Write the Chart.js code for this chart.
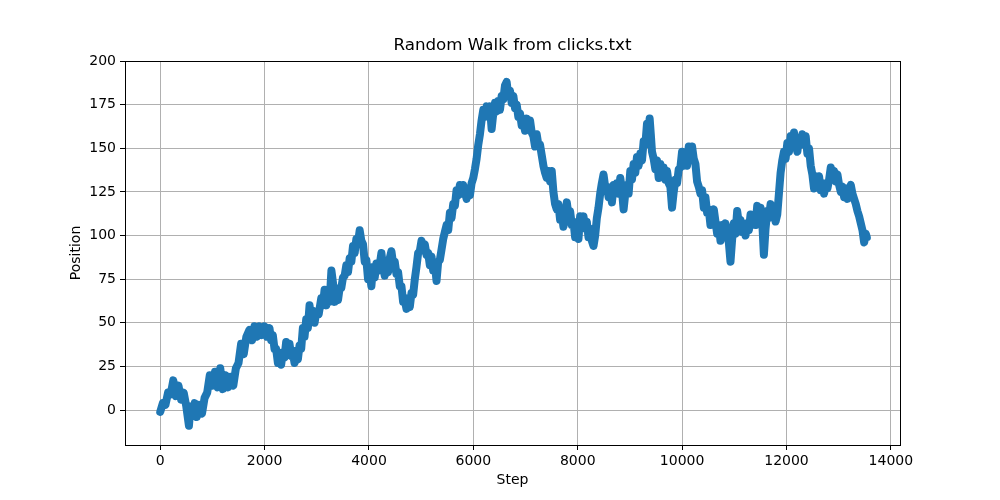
<!DOCTYPE html>
<html>
<head>
<meta charset="utf-8">
<script src="https://cdn.jsdelivr.net/npm/chart.js@4"></script>
<style>
  body { margin: 0; background: #fff; }
  #wrap { width: 1000px; height: 500px; }
</style>
</head>
<body>
<div id="wrap"><canvas id="myChart"></canvas></div>
<script>
// values (step, position)
var steps = [
    0, 50, 100, 150, 200, 250, 300, 350, 400, 450, 500, 550, 580, 620, 660, 700, 750, 800, 850, 900,
    950, 1000, 1050, 1100, 1150, 1200, 1250, 1300, 1350, 1400, 1450, 1500, 1550, 1600, 1650,
    1709, 1760, 1805, 1850, 1901, 1950, 1997, 2045, 2093, 2125, 2157, 2190, 2221, 2255, 2285, 2317,
    2349, 2381, 2413, 2445, 2477, 2509, 2541, 2573, 2605, 2637, 2669, 2701, 2733, 2765, 2797, 2829,
    2861, 2893, 2925, 2957, 2989, 3037, 3085, 3117, 3149, 3181, 3213, 3246, 3280, 3310, 3342, 3374,
    3406, 3438, 3470, 3502, 3534, 3566, 3598, 3630, 3662, 3694, 3726, 3758, 3790, 3822, 3854, 3886,
    3918, 3950, 3982, 4014, 4046, 4078, 4110, 4142, 4190, 4238, 4270, 4302, 4334, 4366, 4398, 4430,
    4462, 4494, 4526, 4558, 4590, 4622, 4654, 4686, 4718, 4750, 4782, 4814, 4846, 4878, 4910, 4942,
    4974, 5006, 5038, 5070, 5102, 5134, 5166, 5198, 5230, 5262, 5294, 5326, 5358, 5390, 5422, 5454,
    5486, 5518, 5550, 5582, 5614, 5646, 5678, 5710, 5742, 5774, 5806, 5838, 5870, 5902, 5934, 5966,
    5998, 6030, 6062, 6094, 6126, 6158, 6190, 6222, 6254, 6286, 6318, 6350, 6382, 6414, 6446, 6478,
    6510, 6542, 6574, 6606, 6638, 6670, 6702, 6734, 6766, 6798, 6830, 6862, 6894, 6926, 6958, 6990,
    7022, 7054, 7086, 7118, 7150, 7182, 7214, 7246, 7278, 7310, 7342, 7374, 7406, 7438, 7470, 7502,
    7534, 7566, 7598, 7630, 7662, 7694, 7726, 7758, 7790, 7822, 7854, 7886, 7918, 7950, 7982, 8014,
    8046, 8078, 8110, 8142, 8174, 8206, 8238, 8270, 8302, 8334, 8366, 8398, 8430, 8462, 8494, 8526,
    8559, 8591, 8623, 8655, 8687, 8719, 8751, 8783, 8815, 8847, 8879, 8911, 8943, 8975, 9007, 9039,
    9071, 9103, 9135, 9167, 9199, 9231, 9263, 9295, 9327, 9359, 9378, 9400, 9423, 9455, 9487, 9519,
    9551, 9583, 9615, 9647, 9679, 9711, 9743, 9775, 9807, 9839, 9871, 9903, 9935, 9967, 9999, 10031,
    10063, 10095, 10127, 10159, 10191, 10223, 10255, 10287, 10319, 10351, 10383, 10415, 10447, 10479, 10511, 10543,
    10575, 10607, 10639, 10671, 10703, 10735, 10767, 10799, 10831, 10863, 10895, 10927, 10959, 10991, 11023, 11055,
    11087, 11119, 11151, 11183, 11215, 11247, 11279, 11311, 11343, 11375, 11407, 11439, 11471, 11503, 11535, 11567,
    11599, 11631, 11663, 11695, 11727, 11759, 11791, 11823, 11855, 11887, 11919, 11951, 11983, 12016, 12048, 12080,
    12112, 12144, 12176, 12208, 12240, 12272, 12304, 12336, 12368, 12400, 12432, 12464, 12496, 12528, 12560, 12592,
    12624, 12656, 12688, 12720, 12752, 12784, 12816, 12848, 12880, 12912, 12944, 12976, 13008, 13040, 13072, 13104,
    13136, 13168, 13200, 13232, 13264, 13296, 13328, 13360, 13392, 13424, 13456, 13488, 13520, 13540
];

var positions = [
    -1, 4, 3, 10, 9, 17, 8, 14, 6, 10, 2, -9, 2, -3, 4, -4, 3, -2, 7, 10,
    20, 14, 22, 13, 24, 12, 20, 13, 19, 14, 24, 27, 38, 32, 42,
    46, 40, 48, 42, 48, 43, 48, 42, 47, 40, 43, 35, 35, 27, 32, 26,
    33, 30, 39, 32, 38, 31, 33, 27, 34, 29, 37, 35, 47, 42, 52, 47,
    60, 52, 57, 50, 56, 55, 64, 60, 69, 60, 68, 62, 80, 73, 62, 68,
    63, 70, 70, 76, 77, 83, 79, 87, 85, 94, 90, 98, 96, 103, 97, 95,
    85, 86, 75, 78, 71, 82, 76, 84, 80, 90, 82, 77, 84, 79, 87, 91,
    84, 85, 78, 79, 71, 71, 62, 63, 58, 64, 59, 67, 66, 75, 82, 90,
    91, 97, 93, 95, 89, 90, 83, 88, 80, 84, 74, 85, 86, 92, 98, 102,
    106, 103, 113, 110, 118, 117, 126, 123, 129, 124, 129, 125, 121, 127, 123, 130,
    133, 138, 144, 152, 158, 166, 172, 168, 174, 169, 174, 161, 170, 176, 171, 177,
    172, 180, 178, 186, 188, 180, 183, 176, 180, 173, 175, 168, 170, 163, 165, 160,
    167, 161, 166, 159, 157, 151, 158, 152, 152, 146, 140, 136, 133, 137, 131, 137,
    125, 118, 115, 118, 109, 113, 105, 110, 119, 112, 114, 106, 108, 99, 105, 98,
    111, 104, 111, 104, 108, 99, 104, 97, 94, 100, 110, 116, 124, 130, 135, 128,
    128, 122, 125, 119, 129, 124, 130, 124, 133, 126, 115, 124, 129, 124, 137, 132,
    141, 136, 145, 140, 147, 143, 154, 152, 164, 160, 167, 158, 148, 144, 138, 143,
    133, 141, 134, 139, 132, 137, 130, 128, 116, 125, 132, 130, 138, 139, 148, 140,
    145, 140, 151, 145, 151, 144, 141, 131, 128, 124, 126, 116, 122, 113, 115, 106,
    111, 115, 108, 101, 106, 97, 106, 101, 107, 101, 96, 85, 98, 107, 101, 114,
    107, 109, 102, 106, 100, 107, 103, 112, 106, 111, 106, 117, 110, 116, 108, 89,
    104, 114, 110, 118, 112, 114, 108, 112, 124, 136, 143, 148, 144, 153, 148, 157,
    151, 159, 152, 148, 156, 152, 158, 154, 157, 147, 150, 140, 135, 127, 134, 130,
    134, 126, 130, 124, 130, 127, 132, 139, 133, 137, 131, 135, 129, 125, 128, 122,
    127, 121, 126, 129, 124, 121, 118, 114, 111, 107, 103, 96, 101, 99
];

var xTicks = [0, 2000, 4000, 6000, 8000, 10000, 12000, 14000];
var yTicks = [0, 25, 50, 75, 100, 125, 150, 175, 200];
var chartTitle = 'Random Walk from clicks.txt';

var points = steps.map(function (s, i) {
    return { x: s, y: positions[i] };
});

// black frame round the plot + title centred over the plot area
var frame = {
    id: 'frame',
    afterDraw: function (chart) {
        var a = chart.chartArea;
        var c = chart.ctx;
        c.save();
        c.strokeStyle = '#000';
        c.lineWidth = 1;
        c.strokeRect(Math.round(a.left) + 0.5, Math.round(a.top) + 0.5,
            Math.round(a.right - a.left), Math.round(a.bottom - a.top));
        c.fillStyle = '#000';
        c.font = '16.7px "DejaVu Sans"';
        c.textAlign = 'center';
        c.textBaseline = 'middle';
        c.fillText(chartTitle, (a.left + a.right) / 2, 46);
        c.restore();
    }
};

var font = { family: 'DejaVu Sans', size: 14 };

var ctx = document.getElementById('myChart').getContext('2d');

var chart = new Chart(ctx, {
    type: 'line',
    data: {
        datasets: [{
            data: points,
            borderColor: '#1f77b4',
            backgroundColor: '#1f77b4',
            borderWidth: 8,
            borderJoinStyle: 'round',
            borderCapStyle: 'round',
            pointRadius: 0,
            tension: 0,
            fill: false
        }]
    },
    options: {
        responsive: true,
        maintainAspectRatio: false,
        animation: false,
        layout: { padding: { left: 0, right: 100, top: 61, bottom: 0 } },
        plugins: {
            legend: { display: false },
            tooltip: { enabled: false },
            title: { display: false }
        },
        scales: {
            x: {
                type: 'linear',
                min: -675,
                max: 14175,
                afterBuildTicks: function (scale) {
                    scale.ticks = xTicks.map(function (v) { return { value: v }; });
                },
                afterFit: function (scale) { scale.height = 55; },
                ticks: {
                    color: '#000',
                    font: font,
                    padding: 3,
                    maxRotation: 0,
                    callback: function (v) { return String(v); }
                },
                grid: { color: '#b0b0b0', tickColor: '#000', tickLength: 5, lineWidth: 1 },
                border: { color: '#000' },
                title: { display: true, text: 'Step', color: '#000', font: font, padding: { top: 0, bottom: 11 } }
            },
            y: {
                type: 'linear',
                min: -20,
                max: 200,
                afterBuildTicks: function (scale) {
                    scale.ticks = yTicks.map(function (v) { return { value: v }; });
                },
                afterFit: function (scale) { scale.width = 125; },
                ticks: {
                    color: '#000',
                    font: font,
                    padding: 4,
                    callback: function (v) { return String(v); }
                },
                grid: { color: '#b0b0b0', tickColor: '#000', tickLength: 5, lineWidth: 1 },
                border: { color: '#000' },
                title: { display: true, text: 'Position', color: '#000', font: font, padding: { top: 68, bottom: 0 } }
            }
        }
    },
    plugins: [frame]
});
</script>
</body>
</html>
